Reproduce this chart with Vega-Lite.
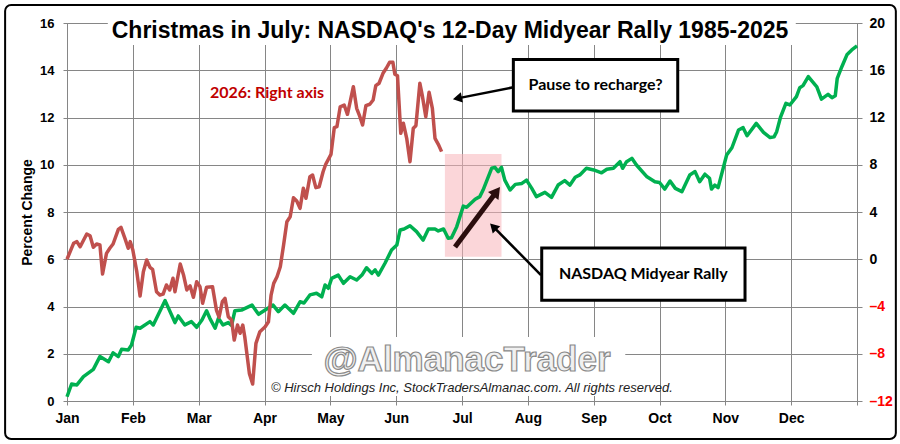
{
  "$schema": "https://vega.github.io/schema/vega-lite/v6.json",
  "width": 790,
  "height": 378,
  "autosize": {"type": "none"},
  "padding": {"left": 67, "top": 23, "right": 43, "bottom": 43},
  "background": "white",
  "config": {
    "font": "Liberation Sans",
    "view": {"stroke": "#868686", "strokeWidth": 1},
    "axis": {
      "labelFont": "Liberation Sans",
      "labelFontWeight": "bold",
      "labelColor": "black",
      "gridColor": "#868686",
      "gridOpacity": 1,
      "gridWidth": 1,
      "domain": false,
      "tickColor": "#868686"
    }
  },
  "resolve": {"scale": {"y": "independent"}},
  "layer": [
    {
      "layer": [
        {
          "data": {"values": [
            {"x": 0.62, "x2": 11.07, "y": 15.07, "y2": 16.3},
            {"x": 3.72, "x2": 8.48, "y": 0.21, "y2": 2.71}
          ]},
          "mark": {"type": "rect", "color": "white"},
          "encoding": {
            "x": {"field": "x", "type": "quantitative", "scale": {"domain": [0, 12], "nice": false, "zero": false}},
            "x2": {"field": "x2"},
            "y": {"field": "y", "type": "quantitative", "scale": {"domain": [0, 16], "nice": false, "zero": false}},
            "y2": {"field": "y2"}
          }
        },
        {
          "data": {"values": [{"x": 5.818, "y": 15.365, "label": "Christmas in July: NASDAQ's 12-Day Midyear Rally 1985-2025"}]},
          "mark": {"type": "text", "font": "Liberation Sans", "fontWeight": "bold", "fontSize": 23, "color": "black", "align": "center", "baseline": "alphabetic"},
          "encoding": {
            "x": {"field": "x", "type": "quantitative", "scale": {"domain": [0, 12], "nice": false, "zero": false}},
            "y": {"field": "y", "type": "quantitative", "scale": {"domain": [0, 16], "nice": false, "zero": false}},
            "text": {"field": "label"}
          }
        },
        {
          "data": {"values": [{"x": 5.74, "x2": 6.6, "y": 6.11, "y2": 10.45}]},
          "mark": {"type": "rect", "color": "#f8b4ba", "opacity": 0.55},
          "encoding": {
            "x": {"field": "x", "type": "quantitative", "scale": {"domain": [0, 12], "nice": false, "zero": false}},
            "x2": {"field": "x2"},
            "y": {"field": "y", "type": "quantitative", "scale": {"domain": [0, 16], "nice": false, "zero": false}},
            "y2": {"field": "y2"}
          }
        },
        {
          "data": {"values": [
            {"x": 0.0, "y": 0.18}, {"x": 0.07, "y": 0.72}, {"x": 0.15, "y": 0.68}, {"x": 0.25, "y": 1.03},
            {"x": 0.4, "y": 1.34}, {"x": 0.5, "y": 1.88}, {"x": 0.63, "y": 1.66}, {"x": 0.7, "y": 2.04},
            {"x": 0.78, "y": 1.88}, {"x": 0.83, "y": 2.19}, {"x": 0.93, "y": 2.16}, {"x": 0.98, "y": 2.37},
            {"x": 1.05, "y": 3.12}, {"x": 1.11, "y": 3.08}, {"x": 1.26, "y": 3.36}, {"x": 1.31, "y": 3.22},
            {"x": 1.49, "y": 4.25}, {"x": 1.64, "y": 3.32}, {"x": 1.69, "y": 3.6}, {"x": 1.79, "y": 3.22},
            {"x": 1.89, "y": 3.36}, {"x": 1.97, "y": 3.12}, {"x": 2.05, "y": 3.43}, {"x": 2.12, "y": 3.82},
            {"x": 2.17, "y": 3.5}, {"x": 2.25, "y": 3.08}, {"x": 2.3, "y": 3.5}, {"x": 2.37, "y": 3.22},
            {"x": 2.45, "y": 3.32}, {"x": 2.5, "y": 3.2}, {"x": 2.55, "y": 3.82}, {"x": 2.65, "y": 3.85},
            {"x": 2.81, "y": 4.06}, {"x": 2.91, "y": 3.67}, {"x": 3.01, "y": 3.85}, {"x": 3.13, "y": 4.06},
            {"x": 3.21, "y": 3.78}, {"x": 3.31, "y": 4.06}, {"x": 3.44, "y": 3.71}, {"x": 3.54, "y": 4.2},
            {"x": 3.6, "y": 4.15}, {"x": 3.69, "y": 4.49}, {"x": 3.79, "y": 4.56}, {"x": 3.87, "y": 4.41},
            {"x": 3.92, "y": 4.91}, {"x": 3.97, "y": 4.77}, {"x": 4.02, "y": 5.19}, {"x": 4.12, "y": 5.33},
            {"x": 4.2, "y": 4.98}, {"x": 4.3, "y": 5.26}, {"x": 4.4, "y": 5.12}, {"x": 4.48, "y": 5.33},
            {"x": 4.55, "y": 5.64}, {"x": 4.63, "y": 5.4}, {"x": 4.68, "y": 5.55}, {"x": 4.73, "y": 5.33},
            {"x": 4.83, "y": 5.83}, {"x": 4.93, "y": 6.39}, {"x": 5.01, "y": 6.6}, {"x": 5.06, "y": 7.24},
            {"x": 5.12, "y": 7.28}, {"x": 5.21, "y": 7.42}, {"x": 5.31, "y": 7.17}, {"x": 5.41, "y": 6.81},
            {"x": 5.49, "y": 7.28}, {"x": 5.59, "y": 7.28}, {"x": 5.64, "y": 7.2}, {"x": 5.72, "y": 7.28},
            {"x": 5.79, "y": 6.89}, {"x": 5.84, "y": 6.91}, {"x": 5.92, "y": 7.38}, {"x": 6.02, "y": 8.25},
            {"x": 6.07, "y": 8.2}, {"x": 6.2, "y": 8.54}, {"x": 6.27, "y": 8.65}, {"x": 6.32, "y": 8.93},
            {"x": 6.45, "y": 9.85}, {"x": 6.5, "y": 9.89}, {"x": 6.55, "y": 9.71}, {"x": 6.6, "y": 9.89},
            {"x": 6.65, "y": 9.35}, {"x": 6.73, "y": 8.93}, {"x": 6.81, "y": 9.17}, {"x": 6.91, "y": 9.21},
            {"x": 6.98, "y": 9.35}, {"x": 7.06, "y": 9.0}, {"x": 7.13, "y": 8.65}, {"x": 7.26, "y": 8.83},
            {"x": 7.36, "y": 8.62}, {"x": 7.46, "y": 9.14}, {"x": 7.56, "y": 9.33}, {"x": 7.64, "y": 9.14},
            {"x": 7.72, "y": 9.47}, {"x": 7.79, "y": 9.57}, {"x": 7.89, "y": 9.85}, {"x": 8.0, "y": 9.78},
            {"x": 8.12, "y": 9.66}, {"x": 8.2, "y": 9.81}, {"x": 8.3, "y": 9.85}, {"x": 8.4, "y": 10.13},
            {"x": 8.44, "y": 9.85}, {"x": 8.5, "y": 10.13}, {"x": 8.58, "y": 10.27}, {"x": 8.65, "y": 9.99},
            {"x": 8.81, "y": 9.49}, {"x": 8.93, "y": 9.28}, {"x": 9.0, "y": 9.25}, {"x": 9.08, "y": 8.97},
            {"x": 9.16, "y": 9.31}, {"x": 9.24, "y": 9.0}, {"x": 9.34, "y": 8.86}, {"x": 9.46, "y": 9.57},
            {"x": 9.54, "y": 9.71}, {"x": 9.61, "y": 9.28}, {"x": 9.69, "y": 9.6}, {"x": 9.76, "y": 9.43},
            {"x": 9.79, "y": 8.97}, {"x": 9.84, "y": 9.14}, {"x": 9.89, "y": 9.03}, {"x": 10.02, "y": 10.41},
            {"x": 10.1, "y": 10.72}, {"x": 10.2, "y": 11.47}, {"x": 10.27, "y": 11.57}, {"x": 10.33, "y": 11.23},
            {"x": 10.47, "y": 11.75}, {"x": 10.58, "y": 11.37}, {"x": 10.68, "y": 11.15}, {"x": 10.74, "y": 11.18},
            {"x": 10.78, "y": 11.4}, {"x": 10.84, "y": 12.03}, {"x": 10.92, "y": 12.6}, {"x": 10.98, "y": 12.53},
            {"x": 11.08, "y": 12.88}, {"x": 11.13, "y": 13.26}, {"x": 11.18, "y": 13.35}, {"x": 11.26, "y": 13.73},
            {"x": 11.39, "y": 13.3}, {"x": 11.46, "y": 12.78}, {"x": 11.56, "y": 12.98}, {"x": 11.62, "y": 12.84},
            {"x": 11.67, "y": 12.92}, {"x": 11.7, "y": 13.66}, {"x": 11.77, "y": 14.15}, {"x": 11.85, "y": 14.67},
            {"x": 11.92, "y": 14.86}, {"x": 12.0, "y": 15.03}
          ]},
          "mark": {"type": "line", "color": "#00b050", "strokeWidth": 3.5, "strokeJoin": "round"},
          "encoding": {
            "x": {
              "field": "x", "type": "quantitative",
              "scale": {"domain": [0, 12], "nice": false, "zero": false},
              "axis": {
                "values": [0, 1, 2, 3, 4, 5, 6, 7, 8, 9, 10, 11, 12],
                "labelExpr": "['Jan','Feb','Mar','Apr','May','Jun','Jul','Aug','Sep','Oct','Nov','Dec',''][datum.value]",
                "title": null,
                "grid": true,
                "tickSize": 4,
                "labelPadding": 6,
                "labelFontSize": 14,
                "labelFlush": false
              }
            },
            "y": {
              "field": "y", "type": "quantitative",
              "scale": {"domain": [0, 16], "nice": false, "zero": false},
              "axis": {
                "values": [0, 2, 4, 6, 8, 10, 12, 14, 16],
                "title": "Percent Change",
                "titleFont": "Liberation Sans",
                "titleFontSize": 14,
                "titleFontWeight": "bold",
                "titleColor": "black",
                "titlePadding": 5,
                "grid": true,
                "tickSize": 4,
                "labelPadding": 9,
                "labelFontSize": 13,
                "labelFlush": false
              }
            }
          }
        },
        {
          "data": {"values": [
            {"x": 6.78, "x2": 9.277, "y": 12.275, "y2": 14.46},
            {"x": 7.211, "x2": 10.299, "y": 4.262, "y2": 6.476}
          ]},
          "mark": {"type": "rect", "fill": "white", "stroke": "black", "strokeWidth": 3},
          "encoding": {
            "x": {"field": "x", "type": "quantitative", "scale": {"domain": [0, 12], "nice": false, "zero": false}},
            "x2": {"field": "x2"},
            "y": {"field": "y", "type": "quantitative", "scale": {"domain": [0, 16], "nice": false, "zero": false}},
            "y2": {"field": "y2"}
          }
        },
        {
          "data": {"values": [
            {"x": 8.028, "y": 13.376, "label": "Pause to recharge?"},
            {"x": 8.754, "y": 5.376, "label": "NASDAQ Midyear Rally"}
          ]},
          "mark": {"type": "text", "font": "Lato", "fontWeight": "bold", "fontSize": 16, "color": "black", "align": "center", "baseline": "middle"},
          "encoding": {
            "x": {"field": "x", "type": "quantitative", "scale": {"domain": [0, 12], "nice": false, "zero": false}},
            "y": {"field": "y", "type": "quantitative", "scale": {"domain": [0, 16], "nice": false, "zero": false}},
            "text": {"field": "label"}
          }
        },
        {
          "data": {"values": [{"x": 5.894, "y": 6.519, "x2": 6.526, "y2": 8.868}]},
          "mark": {"type": "rule", "color": "#2b0d0d", "strokeWidth": 5},
          "encoding": {
            "x": {"field": "x", "type": "quantitative", "scale": {"domain": [0, 12], "nice": false, "zero": false}},
            "x2": {"field": "x2"},
            "y": {"field": "y", "type": "quantitative", "scale": {"domain": [0, 16], "nice": false, "zero": false}},
            "y2": {"field": "y2"}
          }
        },
        {
          "data": {"values": [
            {"x": 7.2, "y": 5.333, "x2": 6.475, "y2": 7.378},
            {"x": 6.779, "y": 13.278, "x2": 5.93, "y2": 12.81}
          ]},
          "mark": {"type": "rule", "color": "black", "strokeWidth": 2.5},
          "encoding": {
            "x": {"field": "x", "type": "quantitative", "scale": {"domain": [0, 12], "nice": false, "zero": false}},
            "x2": {"field": "x2"},
            "y": {"field": "y", "type": "quantitative", "scale": {"domain": [0, 16], "nice": false, "zero": false}},
            "y2": {"field": "y2"}
          }
        },
        {
          "data": {"values": [{"x": 6.526, "y": 8.868}]},
          "mark": {"type": "point", "shape": "triangle-up", "filled": true, "color": "#2b0d0d", "opacity": 1, "size": 170, "angle": 36.9},
          "encoding": {
            "x": {"field": "x", "type": "quantitative", "scale": {"domain": [0, 12], "nice": false, "zero": false}},
            "y": {"field": "y", "type": "quantitative", "scale": {"domain": [0, 16], "nice": false, "zero": false}}
          }
        },
        {
          "data": {"values": [{"x": 6.475, "y": 7.378}]},
          "mark": {"type": "point", "shape": "triangle-up", "filled": true, "color": "black", "opacity": 1, "size": 110, "angle": 315.3},
          "encoding": {
            "x": {"field": "x", "type": "quantitative", "scale": {"domain": [0, 12], "nice": false, "zero": false}},
            "y": {"field": "y", "type": "quantitative", "scale": {"domain": [0, 16], "nice": false, "zero": false}}
          }
        },
        {
          "data": {"values": [{"x": 5.93, "y": 12.81}]},
          "mark": {"type": "point", "shape": "triangle-up", "filled": true, "color": "black", "opacity": 1, "size": 110, "angle": 258.7},
          "encoding": {
            "x": {"field": "x", "type": "quantitative", "scale": {"domain": [0, 12], "nice": false, "zero": false}},
            "y": {"field": "y", "type": "quantitative", "scale": {"domain": [0, 16], "nice": false, "zero": false}}
          }
        },
        {
          "data": {"values": [{"x": 3.038, "y": 13.016, "label": "2026: Right axis"}]},
          "mark": {"type": "text", "font": "Lato", "fontWeight": "bold", "fontSize": 16, "color": "#c00000", "align": "center", "baseline": "middle"},
          "encoding": {
            "x": {"field": "x", "type": "quantitative", "scale": {"domain": [0, 12], "nice": false, "zero": false}},
            "y": {"field": "y", "type": "quantitative", "scale": {"domain": [0, 16], "nice": false, "zero": false}},
            "text": {"field": "label"}
          }
        },
        {
          "data": {"values": [{"x": 6.076, "y": 1.27, "label": "@AlmanacTrader"}]},
          "mark": {"type": "text", "font": "Liberation Sans", "fontWeight": "bold", "fontSize": 35, "fill": "#f0f0f0", "stroke": "#8a8a8a", "strokeWidth": 1.2, "align": "center", "baseline": "alphabetic"},
          "encoding": {
            "x": {"field": "x", "type": "quantitative", "scale": {"domain": [0, 12], "nice": false, "zero": false}},
            "y": {"field": "y", "type": "quantitative", "scale": {"domain": [0, 16], "nice": false, "zero": false}},
            "text": {"field": "label"}
          }
        },
        {
          "data": {"values": [{"x": 6.15, "y": 0.38, "label": "© Hirsch Holdings Inc, StockTradersAlmanac.com. All rights reserved."}]},
          "mark": {"type": "text", "font": "Liberation Sans", "fontStyle": "italic", "fontSize": 13, "color": "#222222", "align": "center", "baseline": "alphabetic"},
          "encoding": {
            "x": {"field": "x", "type": "quantitative", "scale": {"domain": [0, 12], "nice": false, "zero": false}},
            "y": {"field": "y", "type": "quantitative", "scale": {"domain": [0, 16], "nice": false, "zero": false}},
            "text": {"field": "label"}
          }
        },
        {
          "data": {"values": [{"x": -0.94, "x2": 12.59, "y": -1.61, "y2": 16.76}]},
          "mark": {"type": "rect", "filled": false, "stroke": "black", "strokeWidth": 2, "cornerRadius": 6},
          "encoding": {
            "x": {"field": "x", "type": "quantitative", "scale": {"domain": [0, 12], "nice": false, "zero": false}},
            "x2": {"field": "x2"},
            "y": {"field": "y", "type": "quantitative", "scale": {"domain": [0, 16], "nice": false, "zero": false}},
            "y2": {"field": "y2"}
          }
        }
      ]
    },
    {
      "data": {"values": [
        {"x": 0.0, "y": 0.0}, {"x": 0.1, "y": 1.35}, {"x": 0.15, "y": 1.49}, {"x": 0.2, "y": 1.06},
        {"x": 0.3, "y": 2.14}, {"x": 0.35, "y": 1.99}, {"x": 0.4, "y": 1.01}, {"x": 0.45, "y": 1.29},
        {"x": 0.5, "y": 1.21}, {"x": 0.54, "y": -1.25}, {"x": 0.6, "y": 0.5}, {"x": 0.65, "y": 0.93},
        {"x": 0.7, "y": 1.29}, {"x": 0.78, "y": 2.53}, {"x": 0.82, "y": 2.7}, {"x": 0.88, "y": 1.77},
        {"x": 0.93, "y": 0.93}, {"x": 0.96, "y": 1.49}, {"x": 1.0, "y": 0.78}, {"x": 1.06, "y": -1.05},
        {"x": 1.11, "y": -3.11}, {"x": 1.16, "y": -1.05}, {"x": 1.21, "y": -0.06}, {"x": 1.26, "y": -0.68},
        {"x": 1.3, "y": -0.85}, {"x": 1.36, "y": -2.75}, {"x": 1.41, "y": -3.03}, {"x": 1.46, "y": -2.95},
        {"x": 1.51, "y": -2.18}, {"x": 1.56, "y": -2.6}, {"x": 1.61, "y": -1.61}, {"x": 1.64, "y": -2.75},
        {"x": 1.72, "y": -0.4}, {"x": 1.77, "y": -1.33}, {"x": 1.82, "y": -2.6}, {"x": 1.87, "y": -2.26},
        {"x": 1.92, "y": -3.22}, {"x": 1.97, "y": -1.9}, {"x": 2.02, "y": -2.32}, {"x": 2.06, "y": -3.73},
        {"x": 2.12, "y": -2.37}, {"x": 2.21, "y": -2.32}, {"x": 2.27, "y": -4.3}, {"x": 2.31, "y": -4.91},
        {"x": 2.36, "y": -3.59}, {"x": 2.4, "y": -3.31}, {"x": 2.45, "y": -4.86}, {"x": 2.5, "y": -5.14},
        {"x": 2.54, "y": -6.84}, {"x": 2.59, "y": -5.57}, {"x": 2.63, "y": -6.27}, {"x": 2.67, "y": -5.57},
        {"x": 2.7, "y": -6.56}, {"x": 2.77, "y": -9.66}, {"x": 2.82, "y": -10.56}, {"x": 2.87, "y": -7.12},
        {"x": 2.93, "y": -6.13}, {"x": 3.01, "y": -5.71}, {"x": 3.06, "y": -5.29}, {"x": 3.1, "y": -3.03},
        {"x": 3.14, "y": -2.04}, {"x": 3.19, "y": -1.48}, {"x": 3.24, "y": -0.63}, {"x": 3.29, "y": 1.21},
        {"x": 3.34, "y": 3.18}, {"x": 3.39, "y": 3.6}, {"x": 3.44, "y": 5.21}, {"x": 3.49, "y": 4.93},
        {"x": 3.54, "y": 4.31}, {"x": 3.59, "y": 6.01}, {"x": 3.63, "y": 5.16}, {"x": 3.69, "y": 6.99},
        {"x": 3.73, "y": 7.13}, {"x": 3.78, "y": 6.06}, {"x": 3.83, "y": 6.14}, {"x": 3.89, "y": 7.41},
        {"x": 3.93, "y": 8.04}, {"x": 4.01, "y": 8.88}, {"x": 4.06, "y": 11.14}, {"x": 4.1, "y": 11.22},
        {"x": 4.15, "y": 12.91}, {"x": 4.21, "y": 13.06}, {"x": 4.26, "y": 12.27}, {"x": 4.35, "y": 14.61},
        {"x": 4.4, "y": 12.78}, {"x": 4.44, "y": 12.21}, {"x": 4.49, "y": 11.36}, {"x": 4.54, "y": 13.0},
        {"x": 4.6, "y": 13.12}, {"x": 4.65, "y": 13.48}, {"x": 4.69, "y": 14.69}, {"x": 4.74, "y": 14.9},
        {"x": 4.8, "y": 15.74}, {"x": 4.85, "y": 16.17}, {"x": 4.9, "y": 16.67}, {"x": 4.95, "y": 16.67},
        {"x": 4.98, "y": 15.66}, {"x": 5.02, "y": 15.54}, {"x": 5.07, "y": 10.66}, {"x": 5.11, "y": 11.51},
        {"x": 5.16, "y": 10.24}, {"x": 5.21, "y": 8.26}, {"x": 5.26, "y": 11.09}, {"x": 5.3, "y": 11.31},
        {"x": 5.36, "y": 14.9}, {"x": 5.4, "y": 13.76}, {"x": 5.45, "y": 12.07}, {"x": 5.5, "y": 14.13},
        {"x": 5.55, "y": 12.78}, {"x": 5.59, "y": 10.24}, {"x": 5.64, "y": 9.73}, {"x": 5.69, "y": 9.11}
      ]},
      "mark": {"type": "line", "color": "#c0504d", "strokeWidth": 3.5, "strokeJoin": "round"},
      "encoding": {
        "x": {"field": "x", "type": "quantitative", "scale": {"domain": [0, 12], "nice": false, "zero": false}},
        "y": {
          "field": "y", "type": "quantitative",
          "scale": {"domain": [-12, 20], "nice": false, "zero": false},
          "axis": {
            "orient": "right",
            "values": [-12, -8, -4, 0, 4, 8, 12, 16, 20],
            "labelExpr": "datum.value < 0 ? '–' + (-datum.value) : datum.label",
            "labelColor": {"condition": {"test": "datum.value < 0", "value": "#ff0000"}, "value": "black"},
            "title": null,
            "grid": false,
            "tickSize": 5,
            "labelPadding": 7,
            "labelFontSize": 14,
            "labelFlush": false
          }
        }
      }
    }
  ]
}
